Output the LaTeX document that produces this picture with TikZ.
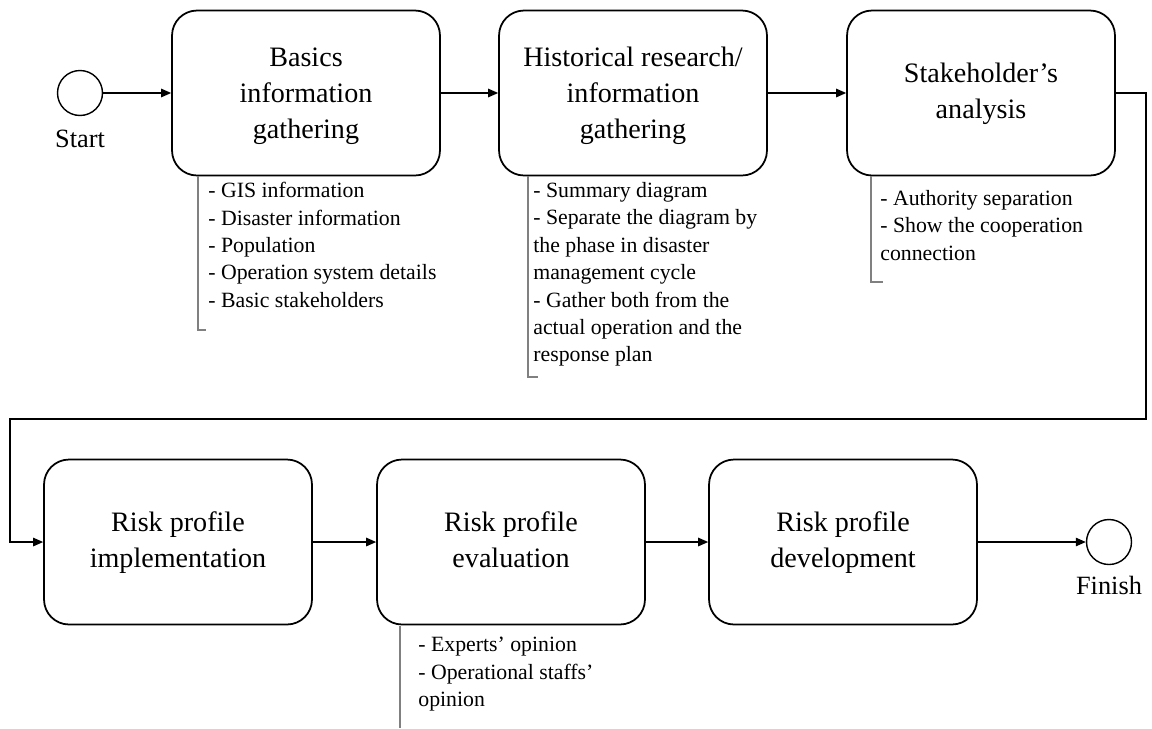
\documentclass[tikz,border=0pt]{standalone}
\usepackage{fontspec}
\setmainfont{Liberation Serif}
\usetikzlibrary{arrows.meta}

\begin{document}
\begin{tikzpicture}[x=0.02cm, y=-0.02cm,
  stage/.style={draw, line width=1pt, rounded corners=0.5cm, minimum width=5.36cm, minimum height=3.3cm, align=center, font=\fontsize{16}{20.5}\selectfont},
  ends/.style={draw, circle, line width=0.8pt, minimum size=0.9cm, inner sep=0pt},
  endlbl/.style={font=\fontsize{15}{18}\selectfont},
  note/.style={anchor=north west, inner sep=0pt, align=left, font=\fontsize{12.4}{15.6}\selectfont},
  brace/.style={draw=gray, line width=0.6pt},
  flow/.style={line width=0.7pt, -{Triangle[length=0.2cm, width=0.17cm]}}]
\useasboundingbox (0,0) rectangle (1152,728);

% top row
\node[ends] (start) at (80,93){};
\node[endlbl] (startlbl) at (80,139){Start};
\node[stage] (b1) at (306,93){\strut Basics\\information\\gathering};
\node[stage] (b2) at (633,93){\strut Historical research/\\information\\gathering};
\node[stage] (b3) at (981,93){\strut Stakeholder's\\analysis\strut};

% bottom row
\node[stage] (b4) at (178,542){\strut Risk profile\\implementation\strut};
\node[stage] (b5) at (511,542){\strut Risk profile\\evaluation\strut};
\node[stage] (b6) at (843,542){\strut Risk profile\\development\strut};
\node[ends] (finish) at (1109,542){};
\node[endlbl] (finishlbl) at (1109,585){Finish};

% notes under the stages
\node[note] (n1) at (208,182){- GIS information\\- Disaster information\\- Population\\- Operation system details\\- Basic stakeholders};
\draw[brace] (198,176) -- (198,330) -- (206,330);
\node[note] (n2) at (533,182){- Summary diagram\\- Separate the diagram by\\the phase in disaster\\management cycle\\- Gather both from the\\actual operation and the\\response plan};
\draw[brace] (528,176) -- (528,377) -- (538,377);
\node[note] (n3) at (880,190){- Authority separation\\- Show the cooperation\\connection};
\draw[brace] (871,176) -- (871,282) -- (883,282);
\node[note] (n4) at (418,637){- Experts' opinion\\- Operational staffs'\\opinion};
\draw[brace] (400,626) -- (400,728);

% flow
\coordinate (turnR) at (1146,419);
\coordinate (turnL) at (10,419);
\draw[flow] (start) -- (b1);
\draw[flow] (b1) -- (b2);
\draw[flow] (b2) -- (b3);
\draw[flow] (b3.east) -| (turnR) -- (turnL) |- (b4.west);
\draw[flow] (b4) -- (b5);
\draw[flow] (b5) -- (b6);
\draw[flow] (b6) -- (finish);
\end{tikzpicture}
\end{document}
